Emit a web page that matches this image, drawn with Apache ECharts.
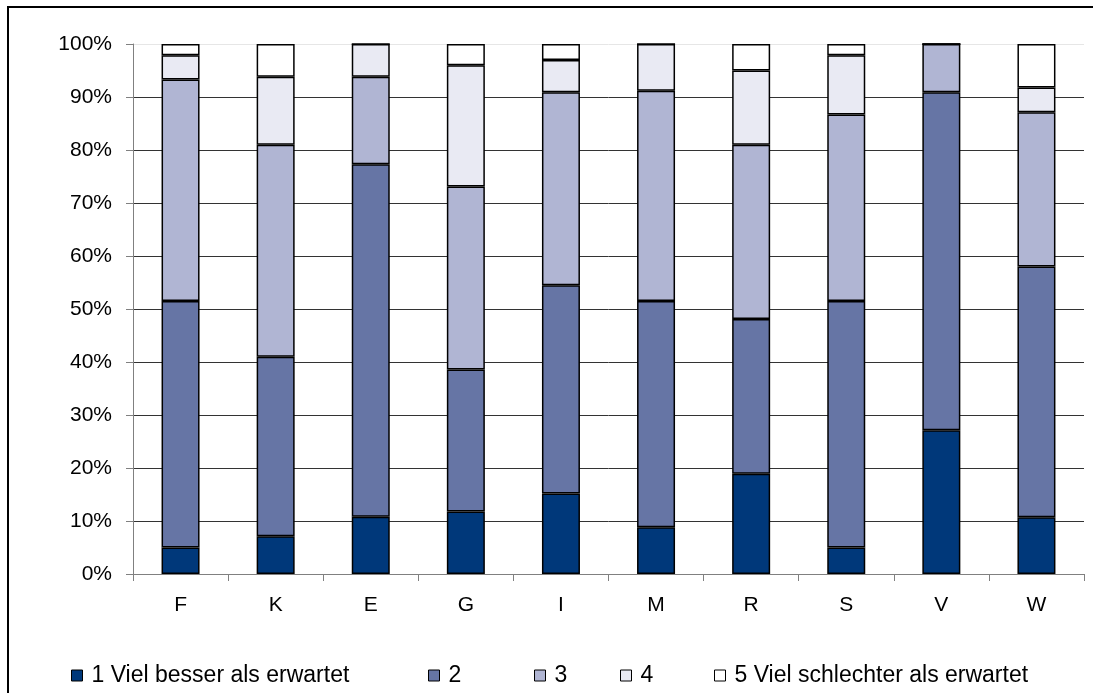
<!DOCTYPE html>
<html>
<head>
<meta charset="utf-8">
<script src="https://cdn.jsdelivr.net/npm/echarts@6/dist/echarts.min.js"></script>
<style>
  html, body { margin: 0; padding: 0; background: #fff; }
  #chart { width: 1093px; height: 693px; }
</style>
</head>
<body>
<div id="chart"></div>
<script>
// Categories along the x axis
const categories = ['F', 'K', 'E', 'G', 'I', 'M', 'R', 'S', 'V', 'W'];

// Share of answers (%) per rating, one array per rating
const rating1 = [5.0, 7.1, 10.8, 11.8, 15.2, 8.8, 18.9, 5.0, 27.1, 10.7];
const rating2 = [46.5, 33.9, 66.5, 26.8, 39.3, 42.7, 29.2, 46.5, 63.8, 47.3];
const rating3 = [41.8, 40.0, 16.5, 34.5, 36.4, 39.7, 32.9, 35.2, 9.1, 29.1];
const rating4 = [4.6, 12.8, 6.2, 22.9, 6.1, 8.8, 14.0, 11.2, 0, 4.7];
const rating5 = [2.1, 6.2, 0, 4.0, 3.0, 0, 5.0, 2.1, 0, 8.2];

const seriesNames = [
  '1 Viel besser als erwartet',
  '2',
  '3',
  '4',
  '5 Viel schlechter als erwartet'
];
const seriesValues = [rating1, rating2, rating3, rating4, rating5];
const seriesColors = ['#00387a', '#6675a5', '#b0b5d3', '#e9eaf3', '#ffffff'];

// Left edge of each legend entry
const legendLefts = [66, 423, 529, 615, 709];

const FONT = '"Liberation Sans", Arial, sans-serif';

const chart = echarts.init(document.getElementById('chart'), null, { renderer: 'canvas' });

chart.setOption({
  animation: false,
  backgroundColor: '#fff',
  graphic: [{
    type: 'rect',
    shape: { x: 8, y: 7, width: 1200, height: 800 },
    style: { fill: 'none', stroke: '#000', lineWidth: 2 },
    silent: true,
    z: 100
  }],
  grid: { left: 133, top: 44, width: 951, height: 530 },
  legend: seriesNames.map((name, i) => ({
    left: legendLefts[i],
    top: 659,
    itemWidth: 11,
    itemHeight: 11,
    icon: 'rect',
    itemStyle: { borderColor: '#000', borderWidth: 1 },
    textStyle: { fontFamily: FONT, fontSize: 23, color: '#000', padding: [0, 0, 0, 4] },
    data: [name]
  })),
  xAxis: {
    type: 'category',
    data: categories,
    boundaryGap: true,
    axisLine: { lineStyle: { color: '#808080', width: 1 } },
    axisTick: { show: true, length: 7, alignWithLabel: false, lineStyle: { color: '#808080' } },
    axisLabel: { fontFamily: FONT, fontSize: 21, color: '#000', margin: 21 }
  },
  yAxis: {
    type: 'value',
    min: 0,
    max: 100,
    interval: 10,
    axisLine: { show: true, lineStyle: { color: '#808080', width: 1 } },
    axisTick: { show: true, length: 7, lineStyle: { color: '#808080' } },
    axisLabel: {
      fontFamily: FONT, fontSize: 21, color: '#000', margin: 21,
      formatter: '{value}%'
    },
    splitLine: {
      show: true,
      lineStyle: {
        color: ['#333', '#333', '#333', '#333', '#333', '#333', '#333', '#333', '#333', '#333', '#e6e6e6'],
        width: 1
      }
    }
  },
  series: seriesNames.map((name, i) => ({
    name: name,
    type: 'bar',
    stack: 'total',
    barWidth: 38,
    data: seriesValues[i],
    itemStyle: { color: seriesColors[i], borderColor: '#000', borderWidth: 1.5 },
    emphasis: { disabled: true }
  }))
});
</script>
</body>
</html>
